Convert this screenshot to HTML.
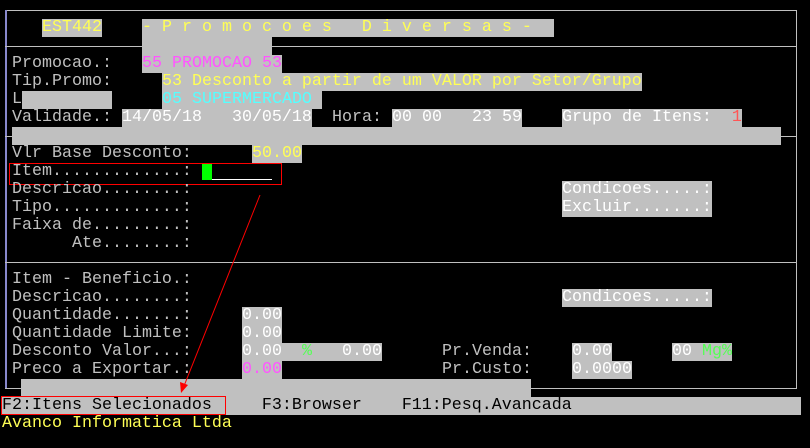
<!DOCTYPE html>
<html><head><meta charset="utf-8"><style>
body{margin:0;width:810px;height:448px;background:#000;overflow:hidden;position:relative;font-family:"Liberation Mono",monospace;font-size:16.67px;}
.t{position:absolute;height:18px;line-height:18px;white-space:pre;color:#c0c0c0;}
.g{background:#c0c0c0;color:#fff;}
.y{color:#ffff55}.m{color:#ff55ff}.c{color:#55ffff}.r{color:#ff5555}.gr{color:#55ff55}.k{color:#000}
.ln{position:absolute;background:#c0c0c0;}
</style></head><body>
<div class="ln" style="left:5px;top:10px;width:792px;height:1px"></div>
<div class="ln" style="left:5px;top:10px;width:2px;height:379px;background:#8888cc"></div>
<div class="ln" style="left:796px;top:10px;width:1px;height:379px"></div>
<div class="ln" style="left:5px;top:388px;width:792px;height:1px"></div>
<div class="ln" style="left:5px;top:46px;width:792px;height:1px"></div>
<div class="ln" style="left:5px;top:136px;width:792px;height:1px"></div>
<div class="ln" style="left:5px;top:262px;width:792px;height:1px"></div>

<div class="t g y" style="left:42px;top:19px">EST442</div>
<div class="t g y" style="left:142px;top:19px;width:412px">- P r o m o c o e s   D i v e r s a s -</div>
<div class="t g" style="left:142px;top:37px;width:130px"></div>

<div class="t" style="left:12px;top:55px">Promocao.:</div>
<div class="t g m" style="left:142px;top:55px;width:140px">55 PROMOCAO 53</div>
<div class="t" style="left:12px;top:73px">Tip.Promo:</div>
<div class="t g y" style="left:162px;top:73px">53 Desconto a partir de um VALOR por Setor/Grupo</div>
<div class="t" style="left:12px;top:91px">L</div>
<div class="t g" style="left:22px;top:91px;width:90px"></div>
<div class="t g c" style="left:162px;top:91px;width:160px">05 SUPERMERCADO</div>
<div class="t" style="left:12px;top:109px">Validade.:</div>
<div class="t g" style="left:122px;top:109px;width:190px">14/05/18   30/05/18</div>
<div class="t" style="left:332px;top:109px">Hora:</div>
<div class="t g" style="left:392px;top:109px;width:130px">00 00   23 59</div>
<div class="t g" style="left:562px;top:109px;width:180px">Grupo de Itens:  <span class="r">1</span></div>
<div class="t g" style="left:12px;top:127px;width:769px"></div>

<div class="t" style="left:12px;top:145px">Vlr Base Desconto:</div>
<div class="t g y" style="left:252px;top:145px;width:50px">50.00</div>
<div class="t" style="left:12px;top:163px">Item.............:</div>
<div class="ln" style="left:202px;top:164px;width:10px;height:16px;background:#00ff00"></div>
<div class="ln" style="left:212px;top:179px;width:60px;height:1px;background:#fff"></div>
<div style="position:absolute;left:9px;top:163px;width:271px;height:20px;border:1px solid #f00"></div>
<div class="t" style="left:12px;top:181px">Descricao........:</div>
<div class="t g" style="left:562px;top:181px;width:150px">Condicoes.....:</div>
<div class="t" style="left:12px;top:199px">Tipo.............:</div>
<div class="t g" style="left:562px;top:199px;width:150px">Excluir.......:</div>
<div class="t" style="left:12px;top:217px">Faixa de.........:</div>
<div class="t" style="left:12px;top:235px">      Ate........:</div>

<div class="t" style="left:12px;top:271px">Item - Beneficio.:</div>
<div class="t" style="left:12px;top:289px">Descricao........:</div>
<div class="t g" style="left:562px;top:289px;width:150px">Condicoes.....:</div>
<div class="t" style="left:12px;top:307px">Quantidade.......:</div>
<div class="t g" style="left:242px;top:307px;width:40px">0.00</div>
<div class="t" style="left:12px;top:325px">Quantidade Limite:</div>
<div class="t g" style="left:242px;top:325px;width:40px">0.00</div>
<div class="t" style="left:12px;top:343px">Desconto Valor...:</div>
<div class="t g" style="left:242px;top:343px;width:140px">0.00  <span class="gr">%</span>   0.00</div>
<div class="t" style="left:442px;top:343px">Pr.Venda:</div>
<div class="t g" style="left:572px;top:343px;width:40px">0.00</div>
<div class="t g" style="left:672px;top:343px;width:60px">00 <span class="gr">Mg%</span></div>
<div class="t" style="left:12px;top:361px">Preco a Exportar.:</div>
<div class="t g m" style="left:242px;top:361px;width:40px">0.00</div>
<div class="t" style="left:442px;top:361px">Pr.Custo:</div>
<div class="t g" style="left:572px;top:361px;width:60px">0.0000</div>
<div class="t g" style="left:21px;top:379px;width:510px"></div>

<div class="t g k" style="left:2px;top:397px;width:799px">F2:Itens Selecionados     F3:Browser    F11:Pesq.Avancada</div>
<div style="position:absolute;left:1px;top:396px;width:223px;height:17px;border:1px solid #f00"></div>
<div class="t y" style="left:2px;top:415px">Avanco Informatica Ltda</div>

<svg style="position:absolute;left:0;top:0" width="810" height="448">
<line x1="260" y1="195" x2="184" y2="386" stroke="#f00" stroke-width="1"/>
<polygon points="181,393 180,382 188,385" fill="#f00"/>
</svg>
</body></html>
